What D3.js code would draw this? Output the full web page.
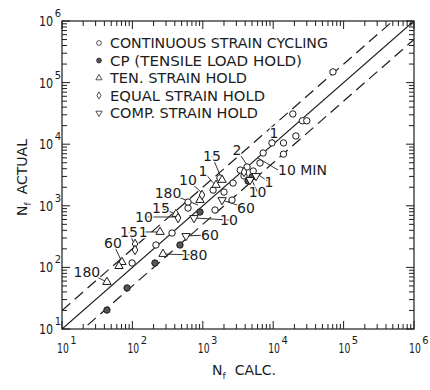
<!DOCTYPE html>
<html lang="en">
<head>
<meta charset="utf-8">
<script src="https://d3js.org/d3.v7.min.js"></script>
<style>
body { margin: 0; background: #fff; }
text { font-family: "DejaVu Sans", sans-serif; fill: #1c1c1c; }
</style>
</head>
<body>
<script>
// values (N_f calc, N_f actual)
var contCalc = [70600, 19000, 26000, 30000, 21000, 14000, 9600, 14000, 7200, 6500, 3400, 4250, 5200, 3850, 1750, 2690, 1400, 2000, 1490, 2600, 617, 617, 366, 216, 99];
var contAct  = [149000, 31000, 24000, 24000, 13600, 10500, 10500, 6900, 7200, 4950, 3800, 4270, 3670, 3050, 2830, 2340, 1800, 1670, 855, 1240, 920, 1150, 361, 231, 118];
var cpCalc = [43.5, 84, 209, 474, 912, 5000, 4390];
var cpAct  = [20.3, 46.4, 118, 231, 793, 2940, 2530];
var tenCalc = [43.5, 71, 64.5, 247, 416, 272, 1540, 1880, 912];
var tenAct  = [57.9, 122, 105, 376, 736, 165, 2180, 2630, 1240];
var eqCalc = [109, 109, 445, 975, 3850];
var eqAct  = [240, 192, 634, 1500, 3540];
var compCalc = [4680, 5700, 750, 577, 1880];
var compAct  = [2630, 3050, 634, 324, 1240];

var legendNames = ["CONTINUOUS STRAIN CYCLING", "CP (TENSILE LOAD HOLD)", "TEN. STRAIN HOLD", "EQUAL STRAIN HOLD", "COMP. STRAIN HOLD"];
var decades = [1, 2, 3, 4, 5, 6];
var bandFactors = [1, 2, 0.5];

// hold-time labels (minutes): text, label position (calc, actual), pointed point (calc, actual)
var noteText = ["1", "2", "1", "10", "15", "1", "10", "180", "15", "10", "15", "1", "60", "180", "60", "10", "60", "180", "10 MIN"];
var noteAt = [[10260, 15200], [3060, 8050], [8700, 2450], [6000, 1650], [1352, 6400], [1007, 3650], [617, 2625], [321, 1615], [255, 920], [146, 658], [89.5, 376], [142, 376], [53, 249], [22.6, 84], [4110, 920], [2355, 588], [1265, 336], [750, 159], [11700, 3810]];
var noteTo = [[9600, 10500], [4530, 4110], [5330, 3540], [4840, 2825], [1880, 2630], [1540, 2095], [975, 1615], [855, 1030], [445, 710], [430, 658], [109, 222], [247, 376], [71, 122], [43.5, 57.9], [1880, 1240], [750, 634], [577, 324], [272, 165], [6080, 5970]];

var W = 430, H = 390;
var x = d3.scaleLog().domain([10, 1e6]).range([62, 414]);
var y = d3.scaleLog().domain([10, 1e6]).range([329, 21]);

var svg = d3.select("body").append("svg").attr("width", W).attr("height", H);
var ink = "#1c1c1c";

// frame
svg.append("rect").attr("x", 62).attr("y", 21).attr("width", 352).attr("height", 308)
    .attr("fill", "none").attr("stroke", ink).attr("stroke-width", 1.2);

// ticks on all four sides, pointing in
var tv = x.ticks();
function isMajor(v) { return Math.abs(Math.log10(v) - Math.round(Math.log10(v))) < 1e-6; }
var tk = svg.append("g").attr("stroke", ink).attr("stroke-width", 1);
tv.forEach(function(v) {
    var L = isMajor(v) ? 8 : 5;
    tk.append("line").attr("x1", x(v)).attr("x2", x(v)).attr("y1", 329).attr("y2", 329 - L);
    tk.append("line").attr("x1", x(v)).attr("x2", x(v)).attr("y1", 21).attr("y2", 21 + L);
    tk.append("line").attr("y1", y(v)).attr("y2", y(v)).attr("x1", 62).attr("x2", 62 + L);
    tk.append("line").attr("y1", y(v)).attr("y2", y(v)).attr("x1", 414).attr("x2", 414 - L);
});

// tick labels: narrow "10" plus a raised exponent
var lab = svg.append("g");
function power(px, py, d, sx) {
    lab.append("text").attr("transform", "translate(" + px + "," + py + ") scale(" + sx + ",1)")
        .attr("font-size", 14).text("10");
    lab.append("text").attr("x", px + 17.8 * sx + 1.5).attr("y", py - 9).attr("font-size", 10).text(d);
}
decades.forEach(function(d) {
    var v = Math.pow(10, d);
    power(x(v) - 5, 353, d, 0.66);
    power(39, y(v) + 5, d, 0.8);
});

// axis titles
var xt = svg.append("text").attr("x", 212).attr("y", 375).attr("font-size", 14);
xt.append("tspan").text("N");
xt.append("tspan").attr("dy", 4).attr("font-size", 9).text("f");
xt.append("tspan").attr("dy", -4).attr("dx", 9).text("CALC.");
var yt = svg.append("text").attr("transform", "translate(27,216) rotate(-90)").attr("font-size", 14);
yt.append("tspan").text("N");
yt.append("tspan").attr("dy", 4).attr("font-size", 9).text("f");
yt.append("tspan").attr("dy", -4).attr("dx", 8).text("ACTUAL");

// 1:1 line and factor-of-2 band
svg.append("clipPath").attr("id", "plot").append("rect")
    .attr("x", 62).attr("y", 21).attr("width", 352).attr("height", 308);
bandFactors.forEach(function(f) {
    svg.append("line").attr("clip-path", "url(#plot)")
        .attr("x1", x(10)).attr("y1", y(10 * f))
        .attr("x2", x(1e6)).attr("y2", y(1e6 * f))
        .attr("stroke", ink).attr("stroke-width", 1.2)
        .attr("stroke-dasharray", f === 1 ? null : "11,6");
});

// leader lines
var notes = svg.append("g");
noteText.forEach(function(s, i) {
    notes.append("line")
        .attr("x1", x(noteAt[i][0])).attr("y1", y(noteAt[i][1]))
        .attr("x2", x(noteTo[i][0])).attr("y2", y(noteTo[i][1]))
        .attr("stroke", ink).attr("stroke-width", 0.9);
});

// symbols
var sym = {
    cont: function(g, cx, cy) { g.append("circle").attr("cx", cx).attr("cy", cy).attr("r", 3.2).attr("fill", "#fff").attr("stroke", ink).attr("stroke-width", 1); },
    cp: function(g, cx, cy) { g.append("circle").attr("cx", cx).attr("cy", cy).attr("r", 3.2).attr("fill", "#555").attr("stroke", ink).attr("stroke-width", 1); },
    ten: function(g, cx, cy) { g.append("path").attr("d", d3.symbol(d3.symbolTriangle, 30)()).attr("transform", "translate(" + cx + "," + cy + ")").attr("fill", "#fff").attr("stroke", ink); },
    eq: function(g, cx, cy) { g.append("path").attr("d", d3.symbol(d3.symbolDiamond, 26)()).attr("transform", "translate(" + cx + "," + cy + ")").attr("fill", "#fff").attr("stroke", ink); },
    comp: function(g, cx, cy) { g.append("path").attr("d", d3.symbol(d3.symbolTriangle, 30)()).attr("transform", "translate(" + cx + "," + cy + ") rotate(180)").attr("fill", "#fff").attr("stroke", ink); }
};
var pts = svg.append("g");
[[contCalc, contAct, "cont"], [cpCalc, cpAct, "cp"], [tenCalc, tenAct, "ten"], [eqCalc, eqAct, "eq"], [compCalc, compAct, "comp"]]
    .forEach(function(s) {
        s[0].forEach(function(c, i) { sym[s[2]](pts, x(c), y(s[1][i])); });
    });

// labels on top, with a white halo
noteText.forEach(function(s, i) {
    var multi = s.length > 3;
    notes.append("text").attr("x", x(noteAt[i][0])).attr("y", y(noteAt[i][1]) + 5)
        .attr("text-anchor", multi ? "start" : "middle").attr("font-size", 14)
        .attr("stroke", "#fff").attr("stroke-width", 2.5).attr("paint-order", "stroke")
        .text(s);
});

// legend
var keys = ["cont", "cp", "ten", "eq", "comp"];
var lens = [218, 192, 137, 155, 148];
legendNames.forEach(function(n, i) {
    var yy = 43 + i * 17.5;
    sym[keys[i]](svg.append("g").attr("transform", "translate(99," + yy + ") scale(0.75)"), 0, 0);
    svg.append("text").attr("x", 110).attr("y", yy + 5).attr("font-size", 14)
        .attr("textLength", lens[i]).attr("lengthAdjust", "spacingAndGlyphs").text(n);
});
</script>
</body>
</html>
